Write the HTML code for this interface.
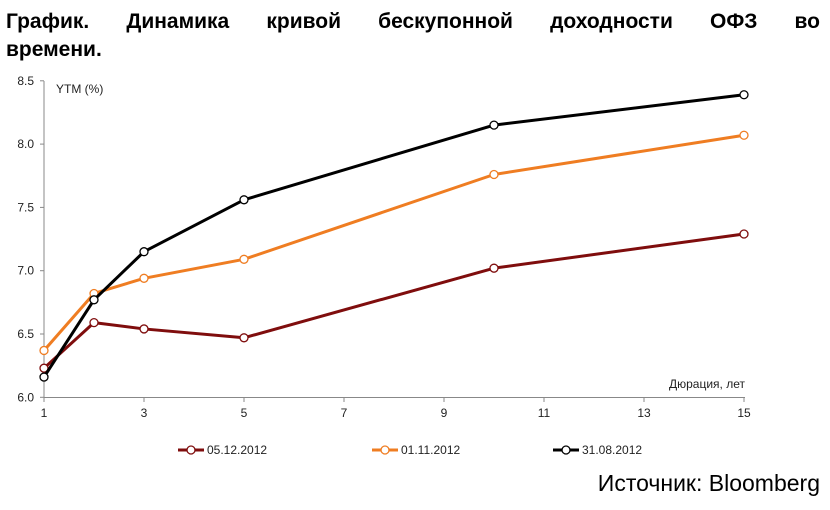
<!DOCTYPE html>
<html><head><meta charset="utf-8"><style>
body{margin:0;width:830px;height:510px;background:#fff;font-family:"Liberation Sans",Arial,sans-serif;overflow:hidden;position:relative}
.tl{position:absolute;left:6px;width:814px;font-weight:bold;font-size:21px;line-height:28px;color:#000}
#t1{top:8px;text-align:justify;text-align-last:justify}
#t2{top:36px}
#src{position:absolute;right:10px;top:470px;font-size:23px;color:#000}
svg{position:absolute;left:0;top:0}
</style></head><body>
<div id="t1" class="tl">График. Динамика кривой бескупонной доходности ОФЗ во</div>
<div id="t2" class="tl">времени.</div>
<svg id="chart" width="830" height="510"></svg>
<div id="src">Источник: Bloomberg</div>
<script>
const xValues=[1,2,3,5,10,15];
const series1=[6.23,6.59,6.54,6.47,7.02,7.29];
const series2=[6.37,6.82,6.94,7.09,7.76,8.07];
const series3=[6.16,6.77,7.15,7.56,8.15,8.39];
const seriesNames=["05.12.2012","01.11.2012","31.08.2012"];
const xTicks=[1,3,5,7,9,11,13,15];
const yTicks=[6.0,6.5,7.0,7.5,8.0,8.5];
const NS="http://www.w3.org/2000/svg";
const svg=document.getElementById('chart');
const X=v=>44+(v-1)*50;
const Y=v=>397.3-(v-6)*126.6;
function mk(t,a){const e=document.createElementNS(NS,t);for(const k in a)e.setAttribute(k,a[k]);svg.appendChild(e);return e;}
let ax=mk('line',{x1:44,y1:81,x2:44,y2:398,stroke:'#888','stroke-width':1});


ax=mk('line',{x1:44,y1:397.5,x2:745,y2:397.5,stroke:'#888','stroke-width':1});


yTicks.forEach(v=>{
 mk('line',{x1:40,y1:Y(v),x2:44,y2:Y(v),stroke:'#888'});
 const t=mk('text',{x:34,y:Y(v)+4,'text-anchor':'end','font-size':12,fill:'#222'});
 t.textContent=v.toFixed(1);
 
 
});
xTicks.forEach(v=>{
 mk('line',{x1:X(v),y1:398,x2:X(v),y2:402,stroke:'#888'});
 const t=mk('text',{x:X(v),y:417,'text-anchor':'middle','font-size':12,fill:'#222'});
 t.textContent=v;
 
 
});
let t=mk('text',{x:56,y:93,'font-size':12,fill:'#222'});t.textContent='YTM (%)';


t=mk('text',{x:745,y:388,'text-anchor':'end','font-size':12,fill:'#222'});t.textContent='Дюрация, лет';


const colors=['#7f0d0d','#ef7d22','#000000'];
const data=[series1,series2,series3];
data.forEach((s,i)=>{
 const p=mk('polyline',{points:s.map((v,j)=>X(xValues[j])+','+Y(v)).join(' '),fill:'none',stroke:colors[i],'stroke-width':3,'stroke-linejoin':'round'});
 
 
 s.forEach((v,j)=>{
  const c=mk('circle',{cx:X(xValues[j]),cy:Y(v),r:4,fill:'#fff',stroke:colors[i],'stroke-width':1.3});
  
  
 });
});
const lx=[178,372,553];
seriesNames.forEach((n,i)=>{
 const g=mk('g',{});
 
 
 const l=document.createElementNS(NS,'line');
 [['x1',lx[i]],['y1',450],['x2',lx[i]+26],['y2',450],['stroke',colors[i]],['stroke-width',3]].forEach(a=>l.setAttribute(a[0],a[1]));g.appendChild(l);
 const c=document.createElementNS(NS,'circle');
 [['cx',lx[i]+13],['cy',450],['r',4],['fill','#fff'],['stroke',colors[i]],['stroke-width',1.3]].forEach(a=>c.setAttribute(a[0],a[1]));g.appendChild(c);
 const tx=document.createElementNS(NS,'text');
 [['x',lx[i]+29],['y',454],['font-size',12],['fill','#222']].forEach(a=>tx.setAttribute(a[0],a[1]));tx.textContent=n;g.appendChild(tx);
});
</script>
</body></html>
